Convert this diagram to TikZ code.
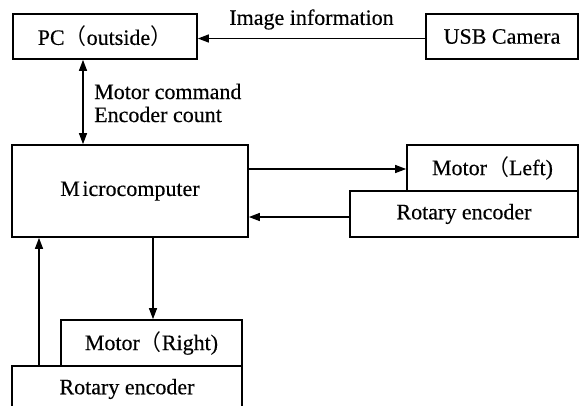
\documentclass[tikz,border=0pt]{standalone}
\usepackage{fontspec}
\setmainfont{Liberation Serif}[BoldFont={Liberation Serif}, BoldFeatures={FakeBold=0.35}]
\newfontfamily\cjk{Noto Sans CJK JP}
\usetikzlibrary{arrows.meta}
\newcommand{\lp}{{\mdseries\cjk （}}
\newcommand{\rp}{{\mdseries\cjk ）}}
\tikzset{
  block/.style={draw, line width=1.7pt, inner sep=0pt, minimum height=46pt,
    font=\fontsize{22}{26}\selectfont\bfseries},
  link/.style={line width=1.3pt, -{Triangle[length=11pt,width=8pt]}},
  twoway/.style={line width=1.3pt, {Triangle[length=11pt,width=8pt]}-{Triangle[length=11pt,width=8pt]}},
  tag/.style={font=\fontsize{22}{23}\selectfont\bfseries, inner sep=0pt}
}
\begin{document}
\begin{tikzpicture}[x=1pt, y=-1pt]
  \useasboundingbox (0,0) rectangle (579,405);
  \clip (0,0) rectangle (579,405);

  % blocks
  \node[block, minimum width=184pt, minimum height=45pt] (pc) at (105,36.5) {PC\lp outside\rp};
  \node[block, minimum width=152pt, minimum height=45pt] (cam) at (502,36.5) {USB Camera};
  \node[block, minimum width=236pt, minimum height=92pt] (mcu) at (130,191) {M\hspace{2.5pt}icrocomputer};
  \node[block, minimum width=171pt] (motl) at (492.5,168) {Motor\lp Left)};
  \node[block, minimum width=228pt] (encl) at (464,214) {Rotary encoder};
  \node[block, minimum width=181pt] (motr) at (151.5,343) {Motor\lp Right)};
  \node[block, minimum width=230pt] (encr) at (127,389) {Rotary encoder};

  % camera to PC
  \draw[link] ([yshift=-2pt]cam.west) -- ([yshift=-2pt]cam.west -| pc.east)
    node[tag, midway, yshift=19pt] (imginfo) {Image information};

  % PC <-> microcomputer
  \draw[twoway] ([xshift=-22pt]pc.south) -- ([xshift=-22pt]pc.south |- mcu.north);
  \node[tag, anchor=west, align=left] (cmdtxt) at (94,103) {Motor command\\Encoder count};

  % left motor and encoder
  \draw[link] ([yshift=22pt]mcu.east) -- ([yshift=22pt]mcu.east -| motl.west);
  \draw[link] ([yshift=-3pt]encl.west) -- ([yshift=-3pt]encl.west -| mcu.east);

  % right motor and encoder
  \draw[link] ([xshift=23pt]mcu.south) -- ([xshift=23pt]mcu.south |- motr.north);
  \draw[link] ([xshift=-88pt]encr.north) -- ([xshift=-88pt]encr.north |- mcu.south);
\end{tikzpicture}
\end{document}
